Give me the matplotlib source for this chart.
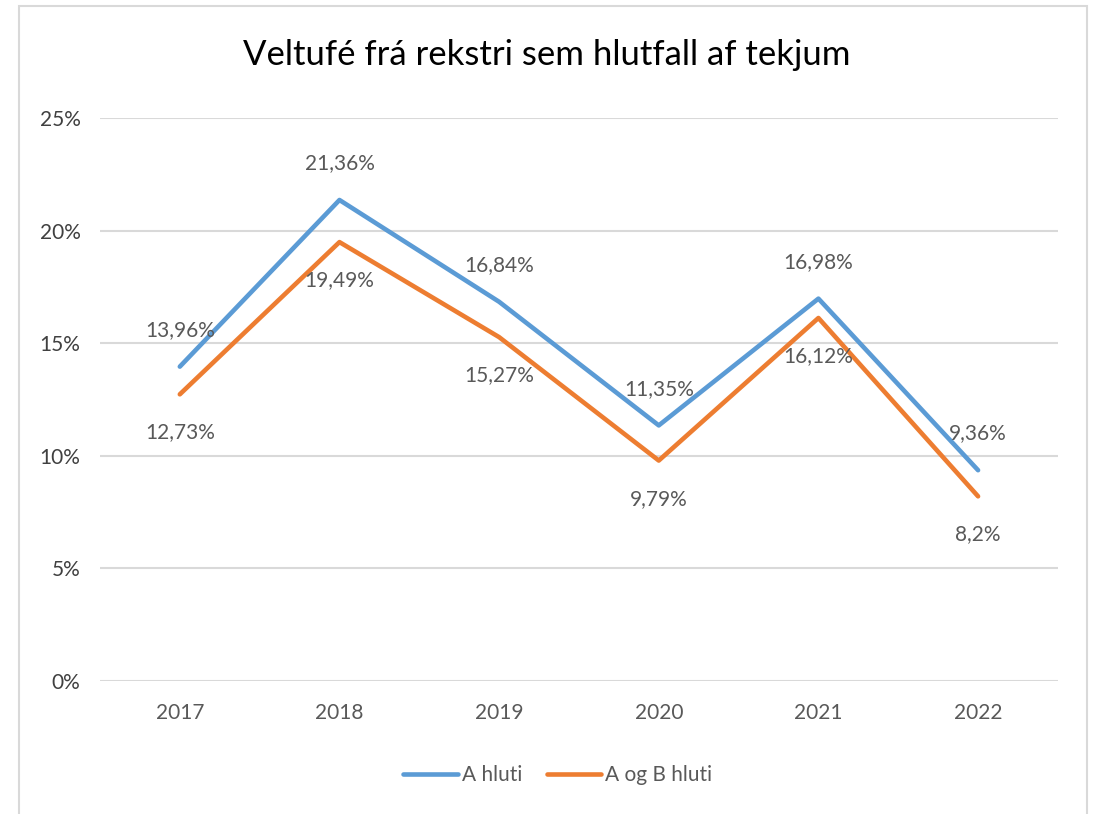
import numpy as np
import matplotlib.pyplot as plt
from matplotlib.patches import Rectangle

years = ["2017", "2018", "2019", "2020", "2021", "2022"]
a_hluti = [13.96, 21.36, 16.84, 11.35, 16.98, 9.36]
a_og_b = [12.73, 19.49, 15.27, 9.79, 16.12, 8.2]
a_labels = ["13,96%", "21,36%", "16,84%", "11,35%", "16,98%", "9,36%"]
ab_labels = ["12,73%", "19,49%", "15,27%", "9,79%", "16,12%", "8,2%"]
yticks = [0, 5, 10, 15, 20, 25]

plt.rcParams['font.family'] = ['Lato', 'DejaVu Sans']
txt = "#595959"

fig = plt.figure(figsize=(10.94, 8.14), dpi=100)
ax = fig.add_axes([0.0914, 0.1634, 0.8756, 0.6916])

# chart border
fig.patches.append(Rectangle((19/1094, -0.05), 1068/1094, 1.05 - 6/814,
                             transform=fig.transFigure, fill=False,
                             edgecolor="#D9D9D9", lw=1.5))

x = np.arange(len(years))
ax.plot(x, a_hluti, color="#5B9BD5", lw=3.3, label="A hluti", solid_capstyle="round")
ax.plot(x, a_og_b, color="#ED7D31", lw=3.3, label="A og B hluti", solid_capstyle="round")

for i in range(len(years)):
    ax.annotate(a_labels[i], (x[i], a_hluti[i]), xytext=(0, 26.5), textcoords="offset points",
                ha="center", va="center", fontsize=15, color=txt)
    ax.annotate(ab_labels[i], (x[i], a_og_b[i]), xytext=(0, -27.5), textcoords="offset points",
                ha="center", va="center", fontsize=15, color=txt)

ax.set_xlim(-0.5, len(years) - 0.5)
ax.set_ylim(0, 25)
ax.set_yticks(yticks)
ax.set_yticklabels([f"{v}%" for v in yticks])
ax.set_xticks(x)
ax.set_xticklabels(years)
ax.tick_params(axis="y", length=0, pad=14, labelsize=15, labelcolor="#404040")
ax.tick_params(axis="x", length=0, pad=16, labelsize=15, labelcolor=txt)
ax.grid(axis="y", color="#D9D9D9", lw=1.5)
ax.set_axisbelow(True)
for s in ax.spines.values():
    s.set_visible(False)

fig.text(0.5, 1 - 55/814, "Veltufé frá rekstri sem hlutfall af tekjum",
         ha="center", va="center", fontsize=25, color="#000000")

fig.legend(loc="center", bbox_to_anchor=(0.51, 1 - 775/814), ncol=2, frameon=False,
           fontsize=15, handlelength=2.6, handletextpad=0.2, columnspacing=1.2,
           labelcolor=txt)

fig.savefig("out.png", dpi=100)
